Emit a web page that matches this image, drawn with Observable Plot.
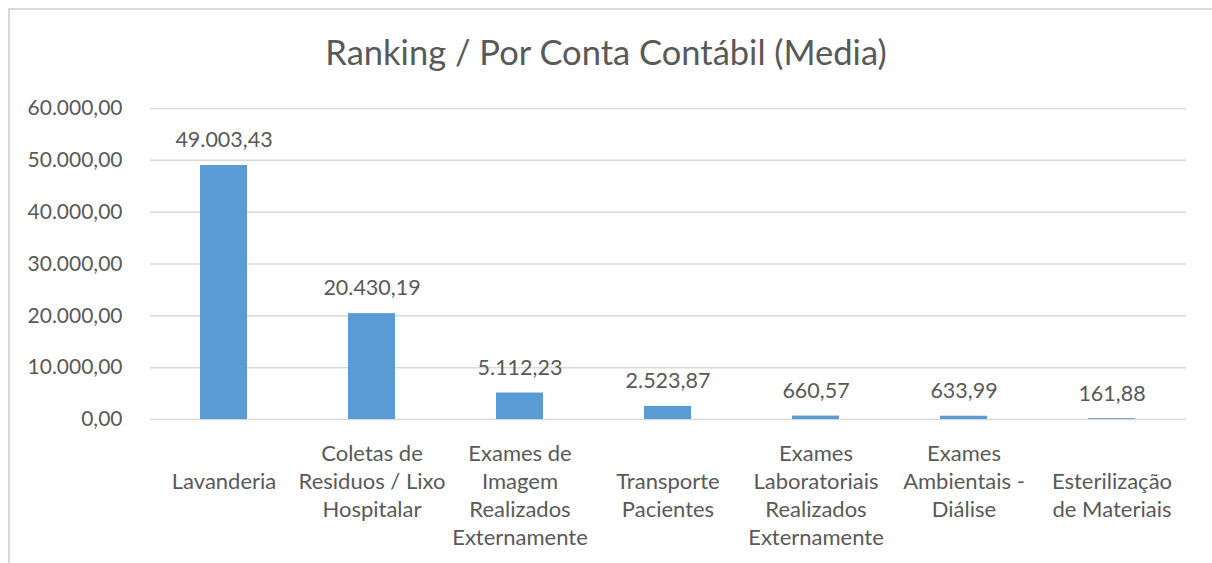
<!DOCTYPE html>
<html>
<head>
<meta charset="utf-8">
<script src="https://cdn.jsdelivr.net/npm/d3@7"></script>
<script src="https://cdn.jsdelivr.net/npm/@observablehq/plot@0.6"></script>
<style>
  html, body { margin: 0; padding: 0; background: #fff; overflow: hidden; }
  #wrap { position: relative; width: 1212px; height: 563px; overflow: hidden; font-family: Lato, "Open Sans", sans-serif; color: #595959; }
  #frame { position: absolute; left: 8px; top: 8px; width: 1300px; height: 700px; border-left: 2px solid #d9d9d9; border-top: 2px solid #d9d9d9; box-sizing: border-box; }
  #title { position: absolute; left: 0; top: 30px; width: 1212px; text-align: center; font-size: 34.5px; line-height: 44px; color: #595959; }
  #chart { position: absolute; left: 0; top: 80px; }
</style>
</head>
<body>
<div id="wrap">
  <div id="frame"></div>
  <div id="title">Ranking / Por Conta Contábil (Media)</div>
  <div id="chart"></div>
</div>
<script>
const categories = [
  "Lavanderia",
  "Coletas de Residuos / Lixo Hospitalar",
  "Exames de Imagem Realizados Externamente",
  "Transporte Pacientes",
  "Exames Laboratoriais Realizados Externamente",
  "Exames Ambientais - Diálise",
  "Esterilização de Materiais"
];
const values = [49003.43, 20430.19, 5112.23, 2523.87, 660.57, 633.99, 161.88];
const categoryLines = [
  ["Lavanderia"],
  ["Coletas de", "Residuos / Lixo", "Hospitalar"],
  ["Exames de", "Imagem", "Realizados", "Externamente"],
  ["Transporte", "Pacientes"],
  ["Exames", "Laboratoriais", "Realizados", "Externamente"],
  ["Exames", "Ambientais -", "Diálise"],
  ["Esterilização", "de Materiais"]
];
const yTicks = [0, 10000, 20000, 30000, 40000, 50000, 60000];

const data = categories.map((c, i) => ({category: c, value: values[i], lines: categoryLines[i]}));

// label vertical placement as in the original (first line slot)
const lineSlot = {"Lavanderia": 1, "Transporte Pacientes": 1, "Esterilização de Materiais": 1};

const ptBR = d3.formatLocale({decimal: ",", thousands: ".", grouping: [3], currency: ["R$ ", ""]});
const fmt = ptBR.format(",.2f");

const chart = Plot.plot({
  width: 1212,
  height: 483,
  marginTop: 28,
  marginBottom: 144,
  marginLeft: 150,
  marginRight: 26,
  style: {fontFamily: "Lato, 'Open Sans', sans-serif", fontSize: "21px", color: "#595959", background: "transparent"},
  x: {domain: categories, paddingInner: 0.68, paddingOuter: 0.34, axis: null},
  y: {domain: [0, 60000], axis: null},
  marks: [
    Plot.gridY(yTicks, {stroke: "#d9d9d9", strokeOpacity: 1, strokeWidth: 1.5}),
    Plot.axisY(yTicks, {tickSize: 0, tickPadding: 28, tickFormat: fmt, fontSize: 21, fill: "#595959", label: null}),
    Plot.barY(data, {x: "category", y: "value", fill: "#5b9bd5"}),
    Plot.text(data, {x: "category", y: "value", text: d => fmt(d.value), dy: -25, fontSize: 21.5, fill: "#595959", lineAnchor: "middle"}),
    ...data.map(d => Plot.text([d], {
      x: "category", y: () => 0,
      text: r => r.lines.join("\n"),
      lineAnchor: "middle",
      lineHeight: 28 / 22,
      dy: 33 + ((lineSlot[d.category] || 0) * 28) + (d.lines.length - 1) * 14,
      fontSize: 22, fill: "#595959"
    }))
  ]
});
document.getElementById("chart").appendChild(chart);
</script>
</body>
</html>
